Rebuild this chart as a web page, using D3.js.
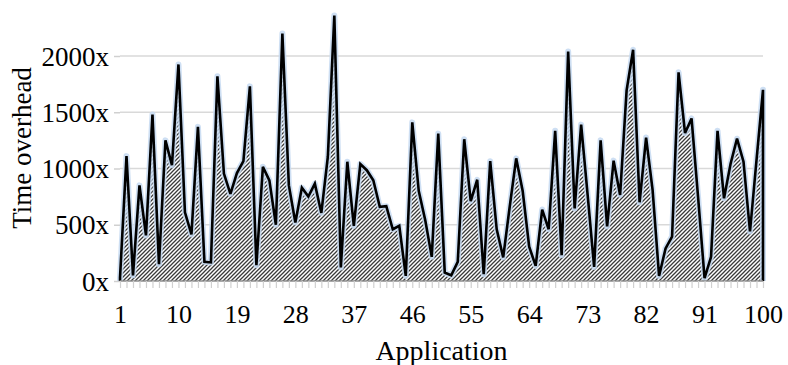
<!DOCTYPE html>
<html>
<head>
<meta charset="utf-8">
<script src="https://cdn.jsdelivr.net/npm/d3@7"></script>
<style>
  html, body { margin: 0; padding: 0; background: #fff; }
  text { font-family: "Liberation Serif", "Times New Roman", serif; fill: #000; }
</style>
</head>
<body>
<svg id="chart" width="788" height="365"></svg>
<script>
// Time overhead per application (x = times slower)
const overhead = [
  30, 1110, 50, 850, 405, 1480, 150, 1250, 1030, 1925,
  610, 415, 1370, 170, 165, 1820, 955, 775, 960, 1065,
  1730, 140, 1015, 895, 500, 2200, 850, 520, 830, 750,
  865, 605, 1105, 2360, 120, 1060, 490, 1040, 985, 895,
  660, 665, 460, 490, 45, 1410, 800, 540, 215, 1310,
  75, 50, 170, 1260, 710, 900, 60, 1065, 460, 210,
  660, 1090, 800, 305, 135, 635, 460, 1335, 230, 2040,
  645, 1390, 765, 125, 1250, 485, 1070, 765, 1695, 2055,
  700, 1275, 810, 45, 290, 395, 1855, 1315, 1445, 750,
  25, 215, 1335, 735, 1040, 1265, 1060, 440, 1075, 1700
];
const applications = d3.range(1, overhead.length + 1);
const xTickLabels = [1, 10, 19, 28, 37, 46, 55, 64, 73, 82, 91, 100];
const yTickValues = [0, 500, 1000, 1500, 2000];

const svg = d3.select("#chart");
const plotLeft = 120, plotRight = 763, plotTop = 56, plotBottom = 281;

const x = d3.scaleLinear().domain([1, 100]).range([plotLeft, plotRight]);
const y = d3.scaleLinear().domain([0, 2000]).range([plotBottom, plotTop]);

// diagonal hatch fill
const defs = svg.append("defs");
const pat = defs.append("pattern")
  .attr("id", "hatch")
  .attr("patternUnits", "userSpaceOnUse")
  .attr("width", 4).attr("height", 4);
pat.append("rect").attr("width", 4).attr("height", 4).attr("fill", "#ffffff");
pat.append("path")
  .attr("d", "M-1,1 L1,-1 M0,4 L4,0 M3,5 L5,3")
  .attr("stroke", "#3a3a3a").attr("stroke-width", 1.3);

// gridlines
svg.append("g").selectAll("line")
  .data(yTickValues.filter(d => d > 0))
  .join("line")
  .attr("x1", plotLeft).attr("x2", plotRight)
  .attr("y1", d => y(d)).attr("y2", d => y(d))
  .attr("stroke", "#d9d9d9").attr("stroke-width", 1.5);

// area
const area = d3.area()
  .x((d, i) => x(applications[i]))
  .y0(y(0))
  .y1(d => y(d));
svg.append("path")
  .datum(overhead)
  .attr("d", area)
  .attr("fill", "url(#hatch)");

// outline: left edge, top line, right edge
const line = d3.line().x(d => x(d[0])).y(d => y(d[1]));
const outlinePts = [[1, 0]].concat(applications.map((a, i) => [a, overhead[i]]), [[100, 0]]);
svg.append("path")
  .attr("d", line(outlinePts))
  .attr("fill", "none")
  .attr("stroke", "#c6d9f1")
  .attr("stroke-width", 6)
  .attr("stroke-linejoin", "round")
  .attr("opacity", 0.85);
svg.append("path")
  .attr("d", line(outlinePts))
  .attr("fill", "none")
  .attr("stroke", "#000")
  .attr("stroke-width", 2.6)
  .attr("stroke-linejoin", "miter")
  .attr("stroke-miterlimit", 3);

// x axis
const xAxis = d3.axisBottom(x)
  .tickValues(applications)
  .tickSize(7)
  .tickFormat(d => xTickLabels.includes(d) ? String(d) : "");
const gx = svg.append("g").attr("transform", `translate(0,${plotBottom})`).call(xAxis);
gx.select(".domain").attr("stroke", "#8c8c8c").attr("stroke-width", 1.5).attr("d", `M${plotLeft},0H${plotRight}`);
gx.selectAll(".tick line").attr("stroke", "#d0d0d0").attr("stroke-width", 1.2);
gx.selectAll(".tick text")
  .attr("y", 42).attr("dy", null)
  .style("font-size", "26px")
  .style("font-family", '"Liberation Serif", serif')
  .attr("fill", "#000");

// y axis
const yAxis = d3.axisLeft(y).tickValues(yTickValues).tickSize(6).tickFormat(d => d + "x");
const gy = svg.append("g").attr("transform", `translate(${plotLeft},0)`).call(yAxis);
gy.select(".domain").remove();
gy.selectAll(".tick line").attr("stroke", "#d0d0d0").attr("stroke-width", 1.5);
gy.selectAll(".tick text")
  .attr("x", -11).attr("dy", "0.34em")
  .style("font-size", "27px")
  .style("font-family", '"Liberation Serif", serif')
  .attr("fill", "#000");

// axis titles
svg.append("text")
  .attr("x", (plotLeft + plotRight) / 2).attr("y", 360)
  .attr("text-anchor", "middle")
  .style("font-size", "28px")
  .text("Application");
svg.append("text")
  .attr("transform", "translate(31,148) rotate(-90)")
  .attr("text-anchor", "middle")
  .style("font-size", "27px")
  .text("Time overhead");
</script>
</body>
</html>
